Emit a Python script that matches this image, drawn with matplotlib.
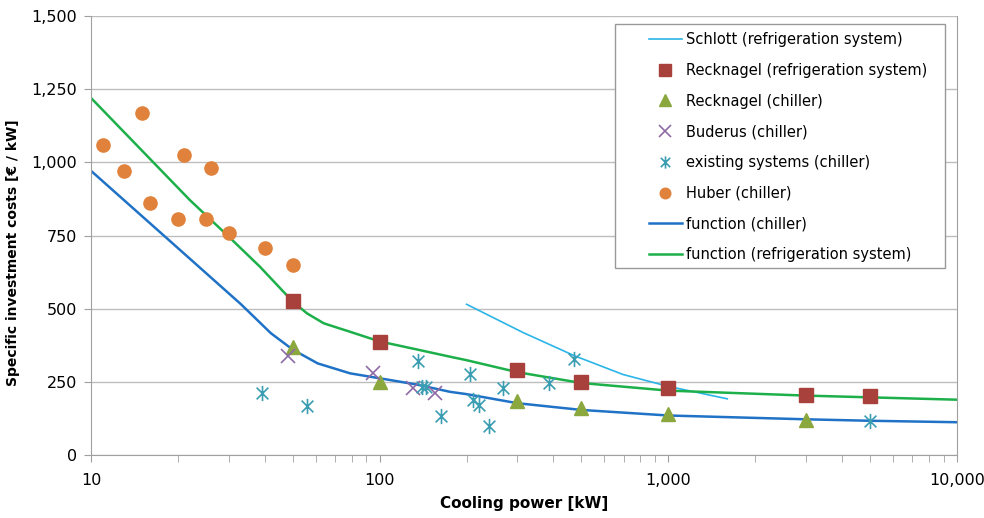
import numpy as np
import matplotlib
matplotlib.use("Agg")
import matplotlib.pyplot as plt
from matplotlib.path import Path
from matplotlib.lines import Line2D
from matplotlib.patches import Rectangle
from matplotlib.ticker import FixedLocator, FuncFormatter, LogLocator, NullFormatter

plt.rcParams['font.family'] = ['Liberation Sans Narrow', 'DejaVu Sans']

# data
schlott_x = [200, 313, 473, 697, 995, 1600]
schlott_y = [515, 419, 339, 275, 235, 192]

reck_sys_x = [50, 100, 300, 500, 1000, 3000, 5000]
reck_sys_y = [526, 386, 290, 250, 230, 206, 200]

reck_ch_x = [50, 100, 300, 500, 1000, 3000]
reck_ch_y = [370, 250, 185, 160, 140, 120]

buderus_x = [48, 95, 130, 155]
buderus_y = [340, 280, 228, 213]

exist_x = [39, 56, 136, 140, 145, 163, 206, 210, 220, 240, 268, 387, 470, 5000]
exist_y = [211, 167, 321, 233, 233, 133, 277, 188, 171, 100, 228, 246, 327, 115]

huber_x = [11, 13, 15, 16, 20, 21, 25, 26, 30, 40, 50]
huber_y = [1060, 970, 1170, 860, 805, 1025, 806, 980, 758, 706, 650]

func_ch_x = [10, 20, 33, 42, 50, 61, 79, 103, 134, 175, 200, 300, 500, 1000, 3000, 5000, 10000]
func_ch_y = [971, 707, 516, 416, 360, 313, 279, 260, 241, 216, 208, 177, 154, 135, 122, 117, 112]

func_sys_x = [10, 22, 30, 38.5, 50, 56, 64, 79, 100, 134, 175, 200, 300, 500, 1000, 3000, 5000, 10000]
func_sys_y = [1220, 871, 746, 643, 524, 484, 450, 421, 388, 361, 336, 324, 283, 246, 220, 203, 197, 189]

# asterisk marker: an x plus a vertical bar
star = Path([(-1, -1), (1, 1), (-1, 1), (1, -1), (0, -1.3), (0, 1.3)],
            [Path.MOVETO, Path.LINETO] * 3)

fig = plt.figure(figsize=(9.84, 5.18), dpi=100)
ax = fig.add_axes([0.0925, 0.1216, 0.8801, 0.8475])

ax.plot(schlott_x, schlott_y, color="#2BB5E8", lw=1.2, label="Schlott (refrigeration system)")
ax.plot(func_ch_x, func_ch_y, color="#1F72C6", lw=1.8, zorder=2)
ax.plot(func_sys_x, func_sys_y, color="#1DB04A", lw=1.8, zorder=2)
ax.plot(reck_sys_x, reck_sys_y, ls="none", marker="s", ms=10, color="#A8403C",
        label="Recknagel (refrigeration system)", zorder=3)
ax.plot(reck_ch_x, reck_ch_y, ls="none", marker="^", ms=10, color="#8BA83E",
        label="Recknagel (chiller)", zorder=3)
ax.plot(buderus_x, buderus_y, ls="none", marker="x", ms=10, mew=1.2, color="#8E6AA6",
        label="Buderus (chiller)", zorder=3)
ax.plot(exist_x, exist_y, ls="none", marker=star, ms=11, mew=1.2, color="#3A9DB2",
        label="existing systems (chiller)", zorder=3)
ax.plot(huber_x, huber_y, ls="none", marker="o", ms=9.5, color="#E0823C",
        label="Huber (chiller)", zorder=3)

# legend order follows the reference
h, l = ax.get_legend_handles_labels()
h += [Line2D([], [], color="#1F72C6", lw=1.8), Line2D([], [], color="#1DB04A", lw=1.8)]
l += ["function (chiller)", "function (refrigeration system)"]
leg = ax.legend(h, l, loc="upper left", bbox_to_anchor=(0.6363, 0.9784), borderaxespad=0,
                fontsize=10.5, labelspacing=1.08, handlelength=2.3, handletextpad=0.25,
                frameon=False, borderpad=0.45, markerscale=0.8)
# legend frame drawn as a plain box
ax.add_patch(Rectangle((0.605, 0.426), 0.381, 0.556, transform=ax.transAxes,
                       facecolor="white", edgecolor="#999999", lw=1.0, zorder=4))
leg.set_zorder(5)

ax.set_xscale("log")
ax.set_xlim(10, 10000)
ax.set_ylim(0, 1500)
ax.xaxis.set_major_locator(FixedLocator([10, 100, 1000, 10000]))
ax.xaxis.set_major_formatter(FuncFormatter(lambda v, p: f"{v:,.0f}"))
ax.xaxis.set_minor_locator(LogLocator(base=10, subs=np.arange(2, 10)))
ax.xaxis.set_minor_formatter(NullFormatter())
ax.yaxis.set_major_locator(FixedLocator([0, 250, 500, 750, 1000, 1250, 1500]))
ax.yaxis.set_major_formatter(FuncFormatter(lambda v, p: f"{v:,.0f}"))

ax.grid(axis="y", color="#BDBDBD", lw=1.0)
ax.set_axisbelow(True)
ax.spines["top"].set_visible(False)
for s in ["left", "right", "bottom"]:
    ax.spines[s].set_color("#A0A0A0")
ax.tick_params(axis="both", which="major", length=5, color="#A0A0A0", labelsize=11.5, pad=5)
ax.tick_params(axis="x", which="major", pad=8)
ax.tick_params(axis="x", which="minor", length=5, color="#A0A0A0")

ax.set_xlabel("Cooling power [kW]", fontsize=11, fontweight="bold", labelpad=6)
ax.set_ylabel("Specific investment costs [€ / kW]", fontsize=10, fontweight="bold")
ax.yaxis.set_label_coords(-0.082, 0.462)

fig.savefig("out.png", dpi=100)
